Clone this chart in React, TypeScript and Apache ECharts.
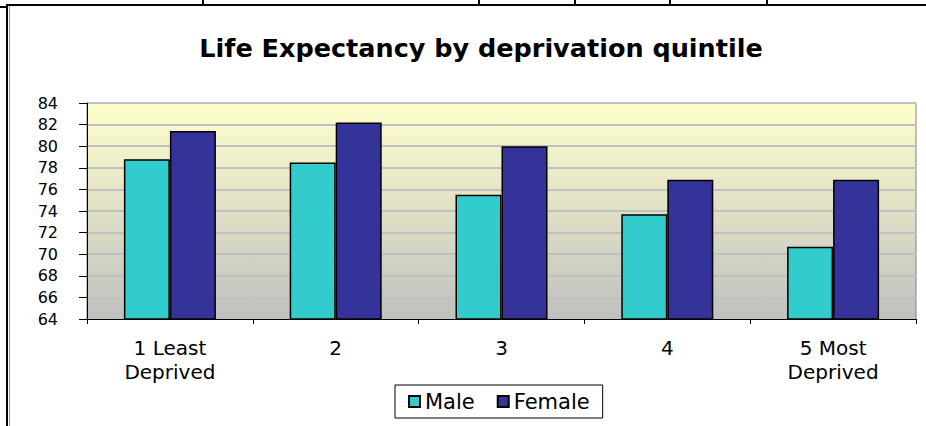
import React, { useEffect, useRef } from "react";
import * as echarts from "echarts";

const categories = ["1 Least\nDeprived", "2", "3", "4", "5 Most\nDeprived"];
const maleValues = [78.8, 78.5, 75.5, 73.7, 70.7];
const femaleValues = [81.4, 82.2, 80.0, 76.9, 76.9];
const seriesNames = ["Male", "Female"];
const titleText = "Life Expectancy by deprivation quintile";
const tableColumnXs = [203, 479, 575, 670, 767];

const FONT = "DejaVu Sans, Liberation Sans, Arial, sans-serif";

export default function App() {
  const ref = useRef<HTMLDivElement>(null);
  useEffect(() => {
    if (!ref.current) return;
    const chart = echarts.init(ref.current, undefined, { renderer: "svg" });
    const graphics: any[] = [
      { type: "line", shape: { x1: 7, y1: 5, x2: 926, y2: 5 }, style: { stroke: "#000", lineWidth: 2 } },
      { type: "line", shape: { x1: 7, y1: 4, x2: 7, y2: 426 }, style: { stroke: "#000", lineWidth: 2 } },
      { type: "line", shape: { x1: 0, y1: 7, x2: 7, y2: 7 }, style: { stroke: "#000", lineWidth: 2 } },
      { type: "line", shape: { x1: 9.5, y1: 6, x2: 9.5, y2: 426 }, style: { stroke: "#999", lineWidth: 1 } },
      ...tableColumnXs.map((x) => ({
        type: "line",
        shape: { x1: x, y1: 0, x2: x, y2: 5 },
        style: { stroke: "#000", lineWidth: 2 },
      })),
    ];
    chart.setOption({
      animation: false,
      backgroundColor: "#fff",
      title: {
        text: titleText,
        left: 476,
        top: 30,
        textAlign: "center",
        textStyle: { fontFamily: FONT, fontSize: 25.5, fontWeight: "bold", color: "#000" },
      },
      legend: {
        data: seriesNames,
        left: 395,
        top: 385,
        orient: "horizontal",
        padding: [6, 13],
        itemGap: 22,
        itemWidth: 11,
        itemHeight: 11,
        borderColor: "#000",
        borderWidth: 1,
        backgroundColor: "#fff",
        textStyle: { fontFamily: FONT, fontSize: 21, color: "#000" },
        icon: "rect",
      },
      grid: {
        left: 87,
        right: 10,
        top: 103,
        bottom: 107,
        show: true,
        borderColor: "#808080",
        borderWidth: 1,
        backgroundColor: new echarts.graphic.LinearGradient(0, 0, 0, 1, [
          { offset: 0, color: "#FFFFCC" },
          { offset: 1, color: "#C0C0C0" },
        ]),
      },
      xAxis: {
        type: "category",
        data: categories,
        axisLine: { lineStyle: { color: "#000", width: 1 } },
        axisTick: { show: true, length: 5, lineStyle: { color: "#000" } },
        axisLabel: {
          fontFamily: FONT,
          fontSize: 20,
          color: "#000",
          margin: 17,
          lineHeight: 24,
          interval: 0,
        },
        splitLine: { show: false },
      },
      yAxis: {
        type: "value",
        min: 64,
        max: 84,
        interval: 2,
        axisLine: { show: true, lineStyle: { color: "#000", width: 1 } },
        axisTick: { show: true, length: 8, lineStyle: { color: "#000" } },
        axisLabel: { fontFamily: FONT, fontSize: 16, color: "#000", margin: 29 },
        splitLine: { show: true, lineStyle: { color: "#C0C0C0", width: 2 } },
      },
      series: [
        {
          name: seriesNames[0],
          type: "bar",
          data: maleValues,
          barWidth: 46,
          barGap: "0%",
          itemStyle: { color: "#33CCCC", borderColor: "#000", borderWidth: 1.5 },
        },
        {
          name: seriesNames[1],
          type: "bar",
          data: femaleValues,
          barWidth: 46,
          barGap: "0%",
          itemStyle: { color: "#333399", borderColor: "#000", borderWidth: 1.5 },
        },
      ],
      graphic: graphics,
    });
    return () => chart.dispose();
  }, []);
  return (
    <div
      ref={ref}
      style={{ position: "fixed", left: 0, top: 0, width: 926, height: 426 }}
    />
  );
}
